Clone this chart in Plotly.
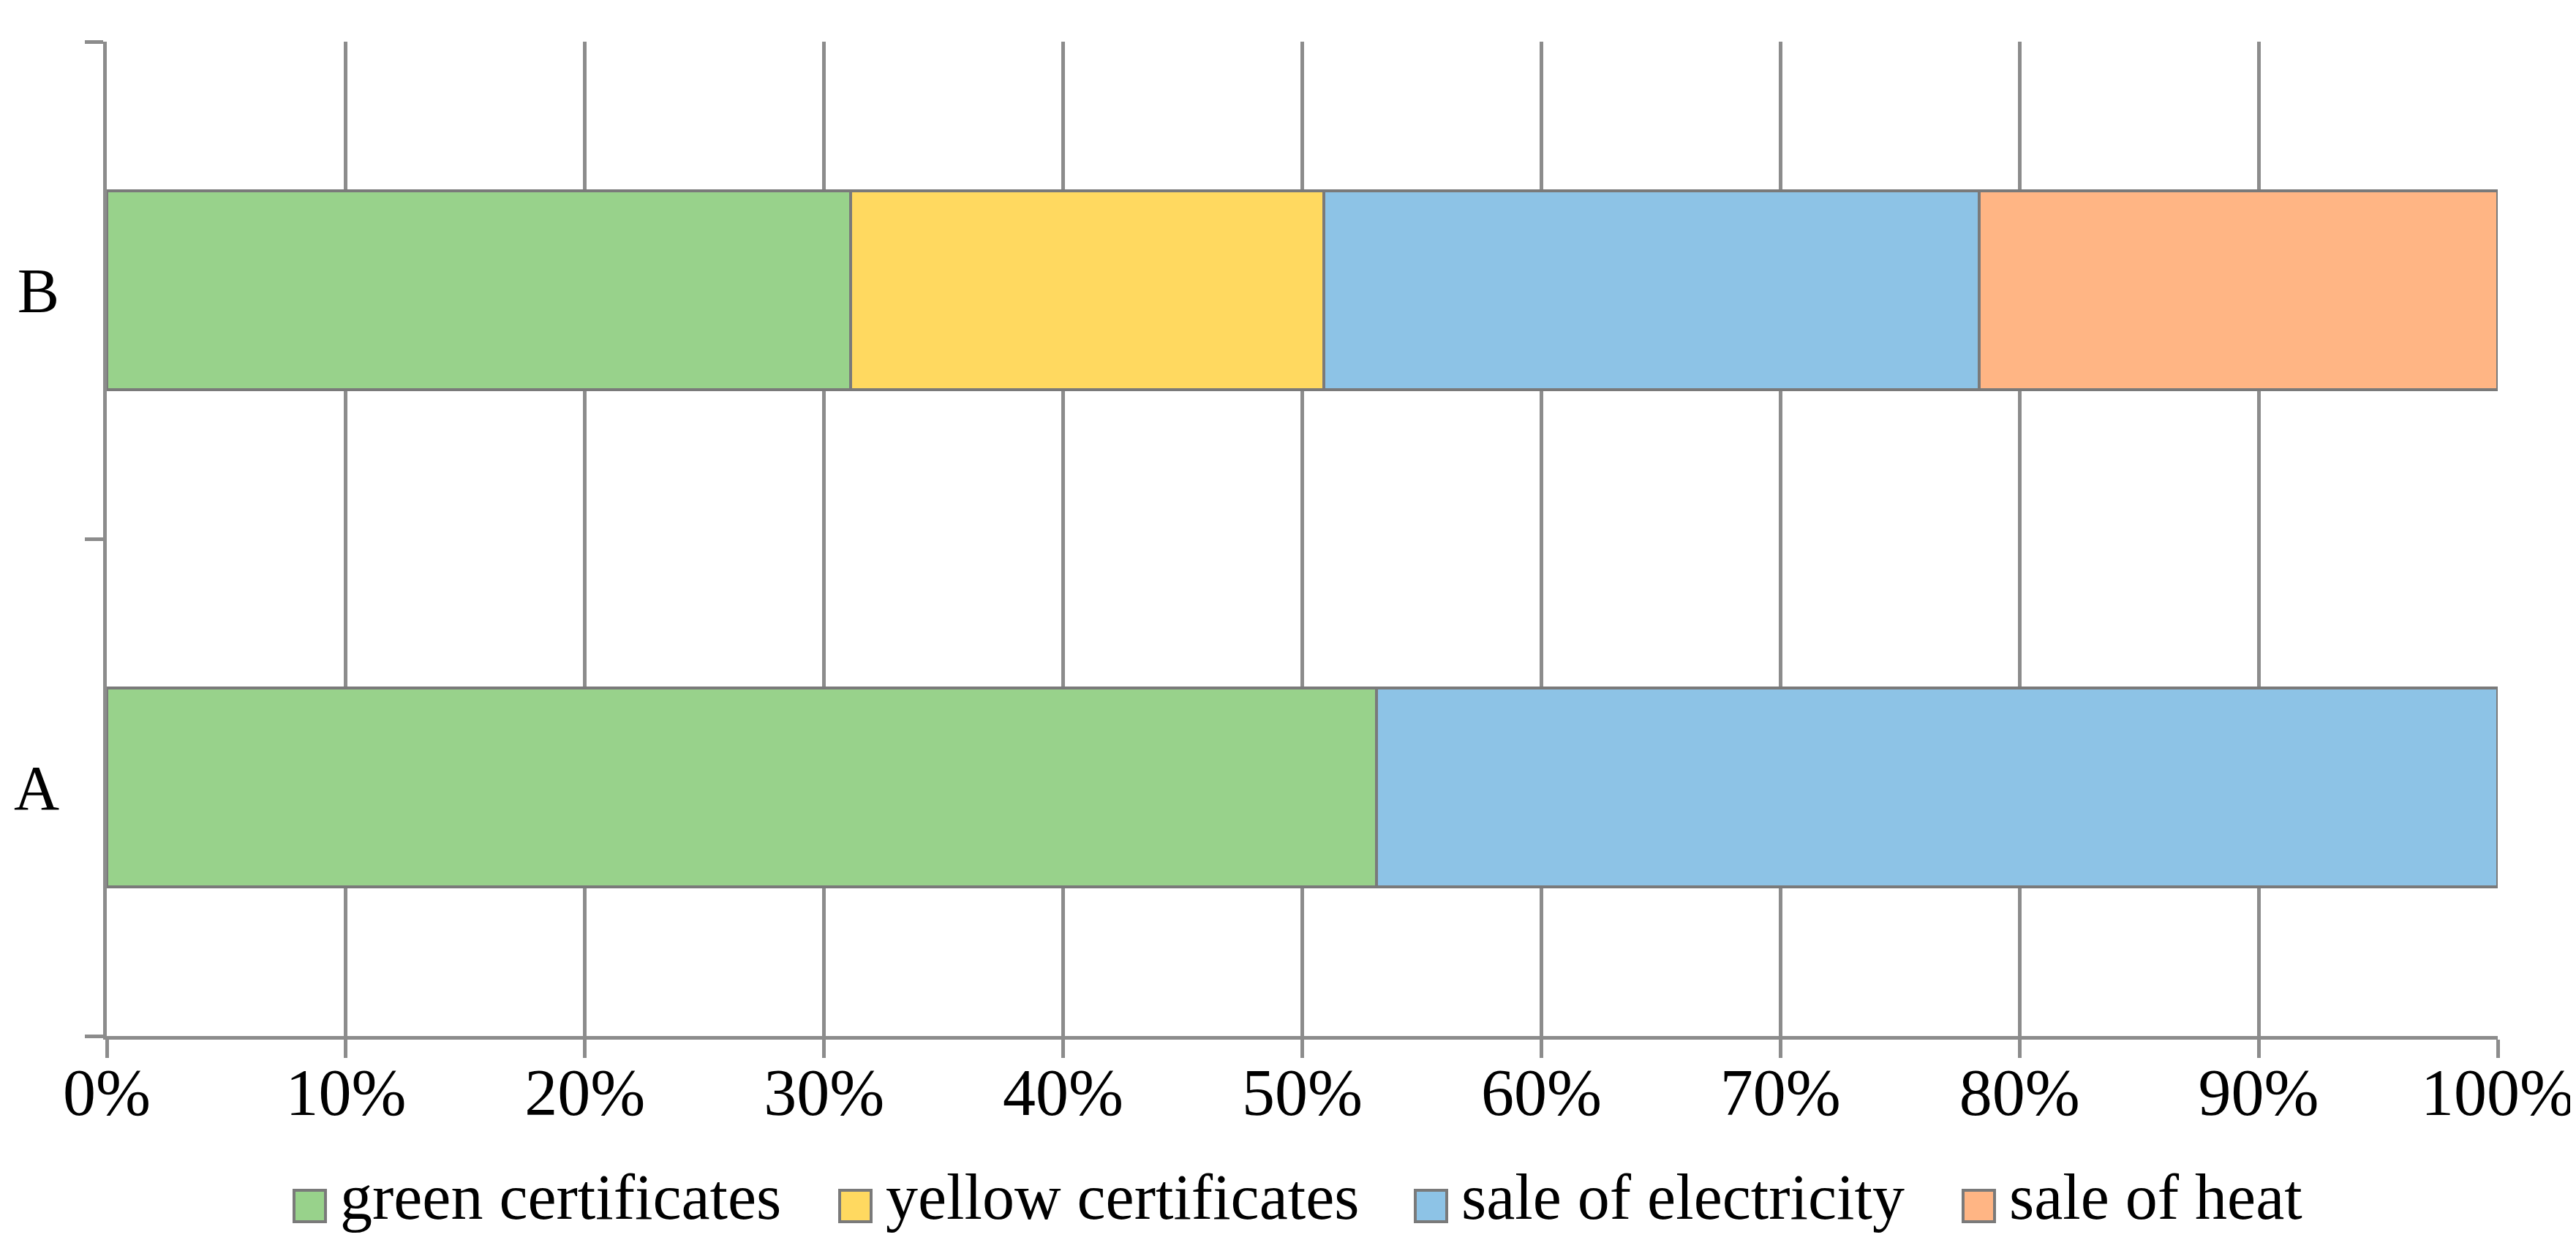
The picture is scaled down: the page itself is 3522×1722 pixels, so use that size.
import plotly.graph_objects as go

# ---- data ----
categories = ["A", "B"]
series_names = ["green certificates", "yellow certificates", "sale of electricity", "sale of heat"]
green_certificates = [53.1, 31.1]
yellow_certificates = [0.0, 19.8]
sale_of_electricity = [46.9, 27.4]
sale_of_heat = [0.0, 21.7]
series_values = [green_certificates, yellow_certificates, sale_of_electricity, sale_of_heat]
x_tick_values = [0, 10, 20, 30, 40, 50, 60, 70, 80, 90, 100]
x_tick_labels = ["0%", "10%", "20%", "30%", "40%", "50%", "60%", "70%", "80%", "90%", "100%"]

# ---- style ----
colors = ["#98D28B", "#FFD960", "#8DC3E6", "#FFB584"]
W, H = 3522, 1722
L, R, T, B = 138, 3407, 49, 1409  # plot area in pixels
FONT = "Liberation Serif"
FS_XTICK = 90
FS_YTICK = 86
FS_LEG = 88
GRID = "#8c8c8c"
EDGE = "#7a7a7a"

fig = go.Figure()
for name, vals, col in zip(series_names, series_values, colors):
    fig.add_trace(go.Bar(
        y=categories, x=vals, name=name, orientation="h",
        marker=dict(color=col, line=dict(color=EDGE, width=4)),
        showlegend=False,
    ))

fig.update_layout(
    width=W, height=H,
    margin=dict(l=L, r=W - R, t=T, b=H - B, pad=0, autoexpand=False),
    barmode="stack", bargap=0.6,
    plot_bgcolor="white", paper_bgcolor="white",
    font=dict(family=FONT, size=FS_XTICK, color="black"),
)
fig.update_xaxes(
    range=[0, 100], tickvals=x_tick_values, ticktext=x_tick_labels,
    showgrid=True, gridcolor=GRID, gridwidth=4.5,
    showline=True, linecolor=GRID, linewidth=4.5,
    ticks="outside", ticklen=25, tickwidth=4.5, tickcolor=GRID,
    ticklabelstandoff=-30, automargin=False,
    zeroline=False, tickfont=dict(family=FONT, size=FS_XTICK, color="black"),
    fixedrange=True,
)
fig.update_yaxes(
    range=[-0.5, 1.5], categoryorder="array", categoryarray=categories,
    showgrid=False, showline=True, linecolor=GRID, linewidth=4.5,
    ticks="outside", tickson="boundaries", ticklen=25, tickwidth=4.5, tickcolor=GRID,
    ticklabelstandoff=43, automargin=False,
    zeroline=False, tickfont=dict(family=FONT, size=FS_YTICK, color="black"),
    fixedrange=True,
)

# ---- custom legend (large square keys) ----
pw, ph = R - L, B - T
def px(xp):
    return (xp - L) / pw
def py(yp):
    return (B - yp) / ph

key_left = [394, 1140, 1927, 2676]
key_size = 43
key_top = 1620
for name, col, kl in zip(series_names, colors, key_left):
    fig.add_shape(type="rect", xref="paper", yref="paper",
                  x0=px(kl), x1=px(kl + key_size), y0=py(key_top + key_size), y1=py(key_top),
                  fillcolor=col, line=dict(color="#7a7a7a", width=4))
    fig.add_annotation(xref="paper", yref="paper", x=px(kl + key_size + 18), y=py(key_top + key_size / 2),
                       text=name, showarrow=False, xanchor="left", yanchor="middle", yshift=12,
                       font=dict(family=FONT, size=FS_LEG, color="black"))

fig.write_html("out.html")
